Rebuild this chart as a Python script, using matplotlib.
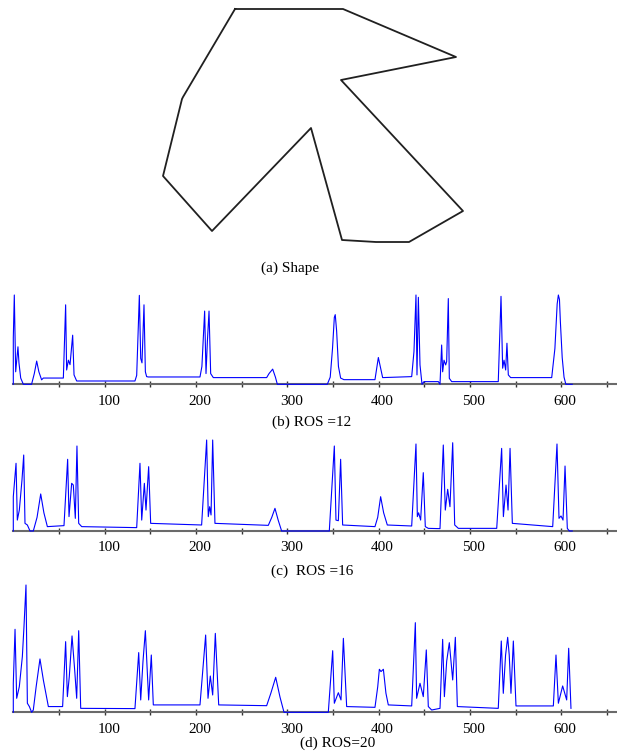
import matplotlib
matplotlib.use('Agg')
import matplotlib.pyplot as plt
import matplotlib.transforms as mtransforms

plt.rcParams['font.family'] = ['Liberation Serif', 'DejaVu Serif']

# shape outline (image pixel coords)
shape_x = [235, 343, 456, 341, 463, 409, 376, 342, 311, 212, 163, 182, 183, 235]
shape_y = [9, 9, 57, 80, 211, 242, 242, 240, 128, 231, 176, 99, 97, 9]

# (b) ROS = 12
b_x = [0, 0, 1.1, 2.6, 5.1, 6.2, 8.1, 11, 20, 23, 25.6, 28, 31, 32.9, 54.8,
       57.3, 58.4, 60.3, 62.1, 65, 66.5, 69.4, 133.2, 135.1, 138, 139.5, 140.9,
       143.1, 144.6, 146, 147.8, 204.4, 206.5, 209.5, 211, 212.5, 214.3, 216.1,
       219, 277.4, 280, 284, 287, 289.1, 343.8, 347, 349.5, 351.5, 352.5, 354,
       356, 358.4, 362, 396, 399.7, 404.4, 436.2, 438.7, 440.9, 442, 443.5,
       445.3, 447.5, 449.7, 465.4, 467.2, 469, 470.1, 471.6, 473.4, 474.5,
       476.3, 477.4, 480, 531, 534, 535.8, 537.3, 539.1, 540.5, 542, 544.6,
       589.5, 593, 595.5, 596.8, 598, 599, 601, 603, 605, 612]
b_y = [0, 52, 100, 14, 42, 24, 7, 0, 0, 12, 26, 14, 5, 7, 7,
       89, 16, 27, 22, 55, 10.5, 3.7, 3.7, 10, 99.6, 29, 24,
       89, 14, 8.6, 8.2, 8.2, 20, 82, 12, 48, 82, 12,
       7.5, 7.5, 12, 17, 8, 0, 0, 8, 40, 75, 78, 60,
       20, 7, 5.2, 5.2, 30, 7.5, 8.6, 36.7, 100, 10.5, 97.4,
       21.7, 0, 3, 3, 0, 44, 14, 27, 21.7, 25.5,
       96, 6.7, 3, 3, 98.5, 18, 27, 16, 46, 10.5, 7.5,
       7.5, 40, 90, 100, 95, 70, 30, 8, 0, 0]

# (c) ROS = 16
c_x = [0, 0, 3, 4.4, 6.6, 9.5, 11.4, 12.8, 15.4, 18.3, 21.9, 26, 30, 33.5,
       37.3, 55.5, 59.5, 61, 63.9, 65.7, 67.9, 69.7, 71.6, 74.9, 135.1, 138.7,
       140.6, 143.5, 145.3, 148.2, 150.4, 206.2, 211.7, 213.5, 215, 216.5,
       218.3, 220.8, 279.2, 283, 286.5, 290, 293.8, 346, 351.5, 353.3, 355.9,
       358.4, 360.6, 396, 399, 402.2, 405.5, 409.5, 436.2, 440.9, 442.4, 443.8,
       446, 448.9, 451.1, 454.4, 467.2, 470.8, 473, 475.6, 478.1, 481.1, 483.3,
       487.3, 529.3, 534.7, 536.6, 539.5, 541.7, 543.9, 546.4, 590.6, 595.3,
       597.5, 599.7, 601.9, 604.1, 606.6, 608.8, 612]
c_y = [0, 37.7, 74.4, 12, 23, 56, 83.5, 8.4, 6.6, 0, 0, 15, 40.7, 20,
       4.8, 5.9, 78.8, 15.8, 52.4, 50.5, 13.9, 93.4, 8.4, 4.8, 3.7, 74.4,
       12, 52.4, 23, 70.7, 8.4, 6.6, 100, 15.8, 26.7, 17.6,
       100, 8.4, 6.2, 15, 24.9, 12, 0, 0, 93.4, 12, 11.3,
       78.8, 6.6, 4.8, 15, 37.7, 20, 6.6, 5.5, 95.6, 15.8, 20,
       12, 64.1, 4.8, 2.9, 2.6, 94.5, 23, 45.8, 26.7, 97, 6.6,
       2.9, 2.9, 90.8, 15.8, 50.5, 23, 90.8, 8.4, 4.8, 95.6,
       13.9, 16.5, 12, 71.4, 2.9, 0, 0]

# (d) ROS = 20
d_x = [0, 0, 1.9, 3.7, 6.6, 9.9, 11.7, 13.9, 15.4, 17.6, 20.1, 21.9, 25, 29.2,
       33, 38.4, 54, 57.3, 59.2, 61.3, 64.3, 67.2, 69.4, 71.6, 73.8, 133.2,
       137.3, 139.5, 142, 144.6, 146.5, 148.2, 151.1, 153.3, 204.4, 210.6,
       213.2, 215.7, 218.3, 221.2, 224.9, 277.4, 282, 287.3, 292, 296.4, 344.9,
       349.7, 351.5, 355.9, 358.8, 361.4, 365, 396, 399, 400.8, 402.6, 405.2,
       408, 410.6, 436.2, 440.2, 441.6, 445.3, 448.9, 452.2, 454.4, 458.1,
       467.2, 470.1, 472, 474.5, 477.4, 481.1, 484, 486.2, 531, 534.3, 536.5,
       539, 541.3, 543, 544.9, 547.5, 550.4, 591.3, 594.2, 596.8, 601.5, 605.9,
       608.1, 610.6]
d_y = [0, 22.8, 65.2, 11, 20.2, 43.7, 67.3, 100, 7.1, 4.5, 0, 1.8, 20, 41.9,
       25, 4.5, 4.5, 55.5, 12.3, 28, 60, 33.2, 11, 64.1, 3.1, 2.9,
       46.9, 9.7, 40, 64.1, 35, 9.7, 45, 5.8, 5.8, 60.7,
       11, 28.5, 13.6, 62, 5.8, 5.2, 15, 27.5, 12, 0, 0,
       48.4, 7.1, 15.4, 9.7, 58.1, 4.5, 3.9, 20, 33.8, 32, 33.8,
       15, 5.8, 5, 70.4, 11, 22.8, 12.3, 49, 4.5, 1.8,
       3.1, 57.3, 12.3, 40, 54.7, 25.4, 58.9, 4.5, 3.1, 56, 14.9,
       45, 58.9, 45, 14.9, 56, 5, 5, 45, 7.1, 20.7, 9.7,
       50.3, 3.1]

major_ticks = [100, 200, 300, 400, 500, 600]
minor_ticks = [50, 150, 250, 350, 450, 550, 650]

W, H = 617, 755
fig = plt.figure(figsize=(W / 100, H / 100), dpi=100)

# shape image
ax0 = fig.add_axes([150 / W, 1 - 255 / H, 330 / W, 255 / H])
ax0.plot(shape_x, shape_y, color='#202020', lw=1.3)
ax0.set_xlim(150, 480)
ax0.set_ylim(255, 0)
ax0.axis('off')

# labels sit a little right of their ticks in the original
shift = mtransforms.ScaledTranslation(4 / 100, 0, fig.dpi_scale_trans)


def panel(xs, ys, base, top):
    ax = fig.add_axes([13.3 / W, 1 - base / H, (W - 13.3) / W, (base - top) / H])
    ax.plot(xs, ys, color='#0000ff', lw=0.8, clip_on=False, zorder=5)
    ax.set_xlim(0, 661)
    ax.set_ylim(0, 100)
    for s in ['left', 'top', 'right']:
        ax.spines[s].set_visible(False)
    ax.spines['bottom'].set_color('#6a6a6a')
    ax.spines['bottom'].set_linewidth(1.5)
    ax.set_yticks([])
    ax.set_xticks(major_ticks)
    ax.set_xticks(minor_ticks, minor=True)
    ax.tick_params(axis='x', which='both', direction='inout', length=5,
                   width=1, color='#333333', labelsize=11, pad=5)
    for lab in ax.get_xticklabels():
        lab.set_transform(lab.get_transform() + shift)
    return ax


panel(b_x, b_y, 384.3, 295)
panel(c_x, c_y, 531, 440)
panel(d_x, d_y, 712.3, 585)

captions = ['(a) Shape', '(b) ROS =12', '(c)  ROS =16', '(d) ROS=20']
cap_pos = [(290, 268), (312, 422), (312, 571), (338, 743)]
for txt, (cx, cy) in zip(captions, cap_pos):
    fig.text(cx / W, 1 - cy / H, txt, ha='center', va='center', fontsize=11)

fig.savefig('out.png', dpi=100)
